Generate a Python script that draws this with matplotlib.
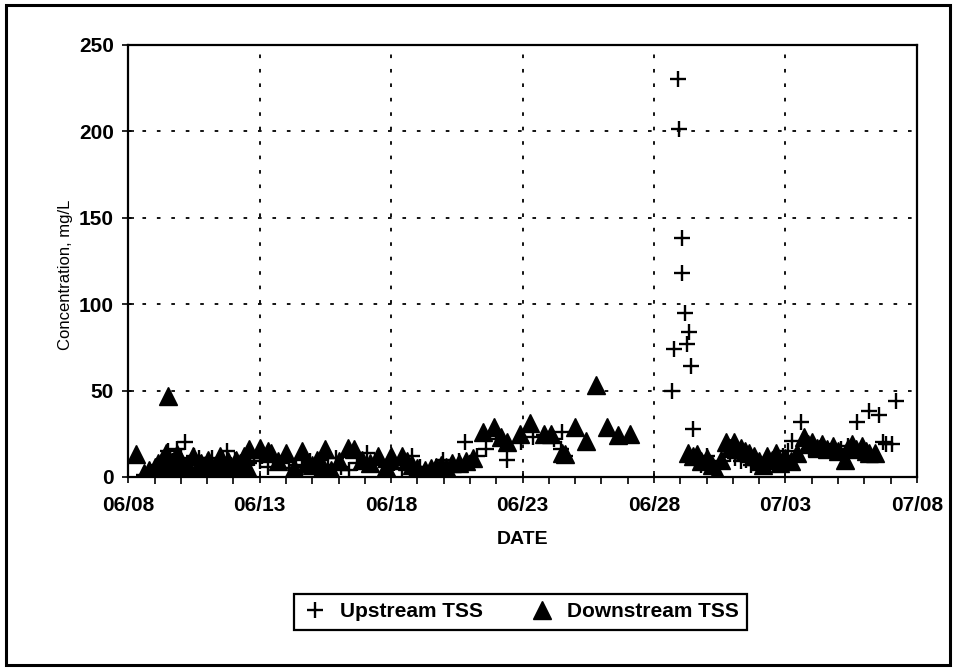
import matplotlib
matplotlib.use('Agg')
from matplotlib import pyplot as plt
import matplotlib.ticker as ticker
from matplotlib.patches import Rectangle

plt.rcParams['font.family'] = ['Liberation Sans', 'DejaVu Sans']

# days after 06/08
up_day = [0.6, 0.9, 1.1, 1.3, 1.5, 1.7, 1.85, 2.0, 2.15, 2.3, 2.5, 2.7, 2.9, 3.05, 3.2,
          3.45, 3.6, 3.75, 3.9, 4.05, 4.2, 4.4, 4.6, 4.8, 5.0, 5.1, 5.3, 5.5, 5.8, 6.1,
          6.4, 6.6, 6.9, 7.1, 7.3, 7.6, 7.9, 8.1, 8.4, 8.7, 9.1, 9.4, 9.8, 10.1, 10.4,
          10.8, 11.1, 11.5, 11.96, 12.3, 12.6, 12.8, 13.25, 13.6, 14.0, 14.4, 14.96, 15.38,
          15.8, 16.2, 16.48, 16.52, 16.6,
          20.67, 20.78, 20.9, 20.97, 21.05, 21.08, 21.2, 21.27, 21.35, 21.4, 21.47, 21.6,
          21.8, 22.0, 22.3, 22.6, 22.9, 23.1, 23.33, 23.5, 23.7, 24.0, 24.3, 24.6, 24.9,
          25.1, 25.26, 25.6, 25.9, 26.3, 26.7, 27.1, 27.4, 27.73, 28.2, 28.57, 28.7, 28.83,
          29.05, 29.2]
up_tss = [1, 3, 5, 7, 15, 9, 16, 11, 20, 8, 12, 11, 6, 9, 11,
          8, 10, 15, 7, 10, 6, 9, 8, 11, 9, 12, 6, 10, 8, 5,
          7, 6, 9, 5, 10, 7, 11, 6, 4, 8, 14, 9, 6, 8, 5,
          12, 6, 3, 10, 7, 9, 20, 12, 16, 22, 10, 20, 23,
          24, 22, 16, 26, 12,
          50, 74, 230, 201, 138, 118, 95, 77, 84, 64, 28, 10,
          7, 12, 5, 9, 13, 11, 9, 10, 7, 6, 9, 8, 12,
          15, 21, 32, 16, 17, 15, 16, 18, 32, 38, 36, 20, 19,
          19, 44]

down_day = [0.3, 0.6, 0.8, 1.0, 1.15, 1.3, 1.45, 1.5, 1.6, 1.75, 1.85, 2.0, 2.1, 2.25,
            2.45, 2.6, 2.75, 2.9, 3.05, 3.2, 3.35, 3.5, 3.65, 3.8, 3.95, 4.1, 4.25, 4.4,
            4.6, 5.0, 5.3, 5.45, 5.7, 6.0, 6.3, 6.6, 6.8, 7.0, 7.2, 7.4, 7.5, 7.7, 8.0,
            8.35, 8.6, 8.9, 9.2, 9.5, 9.8, 9.95, 10.0, 10.4, 10.6, 10.8, 11.0, 11.3, 11.5,
            11.7, 11.9, 12.1, 12.3, 12.6, 12.85, 13.1, 13.5, 13.9, 14.2, 14.4, 14.9, 15.3,
            15.8, 16.1, 16.5, 16.6, 17.0, 17.4, 17.8, 18.2, 18.65, 19.1,
            21.3, 21.5, 21.65, 21.8, 22.0, 22.2, 22.4, 22.55, 22.75, 22.9, 23.05, 23.3,
            23.45, 23.6, 23.8, 24.0, 24.15, 24.3, 24.5, 24.65, 24.8, 25.0, 25.2, 25.45,
            25.7, 25.85, 26.0, 26.2, 26.4, 26.6, 26.8, 27.0, 27.25, 27.4, 27.55, 27.7,
            27.9, 28.05, 28.2, 28.4,
            1.2, 1.4, 1.7, 2.35, 2.55, 2.85, 3.1, 3.45, 3.7, 4.0, 4.3, 4.5]
down_tss = [13, 2, 4, 6, 8, 10, 14, 47, 5, 3, 13, 9, 4, 7,
            12, 5, 8, 3, 10, 6, 4, 12, 7, 9, 5, 10, 8, 12,
            16, 17, 15, 14, 9, 14, 5, 15, 8, 7, 10, 6, 16, 4, 9,
            17, 16, 10, 8, 12, 6, 10, 12, 12, 9, 7, 5, 4, 5,
            6, 7, 6, 8, 8, 9, 11, 26, 29, 23, 20, 25, 31,
            25, 25, 14, 13, 29, 21, 53, 29, 24, 25,
            14, 12, 13, 9, 11, 7, 2, 10, 20, 17, 20, 17,
            15, 14, 12, 9, 7, 12, 10, 14, 8, 11, 9, 14,
            23, 19, 20, 17, 19, 16, 18, 15, 10, 17, 19, 16,
            18, 15, 14, 14,
            2, 1, 6, 3, 1, 5, 2, 7, 2, 4, 1, 6]

tick_days = [0, 5, 10, 15, 20, 25, 30]
tick_labels = ['06/08', '06/13', '06/18', '06/23', '06/28', '07/03', '07/08']

f = plt.figure(figsize=(9.57, 6.68), dpi=100)
ax = f.add_axes([0.134, 0.286, 0.824, 0.647])

ax.plot(up_day, up_tss, ls='none', marker='+', ms=12, mew=1.7, c='black',
        label='Upstream TSS', zorder=3)
ax.plot(down_day, down_tss, ls='none', marker='^', ms=12.5, c='black', mec='black',
        label='Downstream TSS', zorder=3)

ax.set_xlim(0, 30)
ax.set_ylim(0, 250)
ax.set_xticks(tick_days)
ax.set_xticklabels(tick_labels)
ax.xaxis.set_minor_locator(ticker.MultipleLocator(1))
ax.yaxis.set_major_locator(ticker.MultipleLocator(50))

ax.tick_params(which='major', direction='inout', length=9, width=1.2,
               labelsize=15, colors='black')
ax.tick_params(axis='x', which='major', pad=9)
ax.tick_params(axis='y', which='major', pad=6)
ax.tick_params(axis='x', which='minor', direction='out', length=5, width=1.2)
for lab in ax.get_xticklabels() + ax.get_yticklabels():
    lab.set_fontweight('bold')

ax.grid(which='major', color='black', linestyle=(0, (2, 6)), linewidth=1.3)
for s in ax.spines.values():
    s.set_linewidth(1.6)

ax.set_xlabel('DATE', fontsize=14, fontweight='bold', labelpad=12)
ax.set_ylabel('Concentration, mg/L', fontsize=12)
ax.yaxis.set_label_coords(-0.07, 0.468)

leg = f.legend(loc='center', bbox_to_anchor=(0.544, 0.084), ncol=2, fontsize=15,
               frameon=True, fancybox=False, edgecolor='black', framealpha=1,
               columnspacing=2.2, handletextpad=0.6, borderpad=0.4, handlelength=1.2)
leg.get_frame().set_linewidth(1.6)
for t in leg.get_texts():
    t.set_fontweight('bold')

f.patches.append(Rectangle((0.006, 0.004), 0.987, 0.989, transform=f.transFigure,
                           fill=False, edgecolor='black', linewidth=2.2))

f.savefig('out.png', dpi=100)
print('done')
